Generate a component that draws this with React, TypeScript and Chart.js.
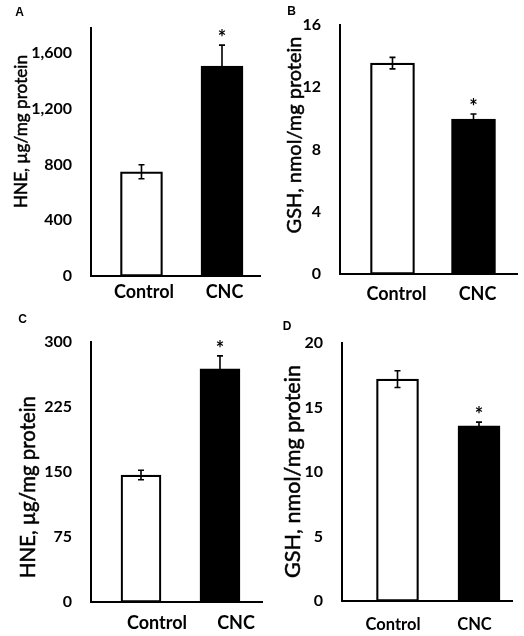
import React, { useEffect, useRef } from 'react';
import { Chart, registerables } from 'chart.js';

Chart.register(...registerables);

// ---- data ----
const categories = ['Control', 'CNC'];
const significant = [false, true];

const hneAValues = [748, 1507];
const hneAErrors = [50, 150];
const hneATicks = [0, 400, 800, 1200, 1600];

const gshBValues = [13.55, 9.96];
const gshBErrors = [0.37, 0.32];
const gshBTicks = [0, 4, 8, 12, 16];

const hneCValues = [146.5, 269];
const hneCErrors = [5.5, 15];
const hneCTicks = [0, 75, 150, 225, 300];

const gshDValues = [17.2, 13.57];
const gshDErrors = [0.65, 0.3];
const gshDTicks = [0, 5, 10, 15, 20];

const hneTitle = 'HNE, µg/mg protein';
const gshTitle = 'GSH, nmol/mg protein';

// ---- layout ----
type Panel = {
  letter: string; letterX: number; letterY: number;
  title: string; titleX: number; titleY: number; titleLen: number;
  values: number[]; errors: number[]; yTicks: number[]; yMax: number;
  area: { left: number; top: number; right: number; bottom: number };
  xMin: number; xMax: number; barW: number;
  labelOffset: number; labelPad: number; catSize: number;
};

const panels: Panel[] = [
  {
    letter: 'A', letterX: 19.5, letterY: 12.5,
    title: hneTitle, titleX: 21, titleY: 131.5, titleLen: 153,
    values: hneAValues, errors: hneAErrors, yTicks: hneATicks, yMax: 1780,
    area: { left: 91, top: 28, right: 260, bottom: 276 },
    xMin: 0.373, xMax: 2.472, barW: 42, labelOffset: 2.5, labelPad: -2.5, catSize: 18,
  },
  {
    letter: 'B', letterX: 291.5, letterY: 12,
    title: gshTitle, titleX: 294.5, titleY: 135, titleLen: 197,
    values: gshBValues, errors: gshBErrors, yTicks: gshBTicks, yMax: 16,
    area: { left: 340, top: 25, right: 517, bottom: 274 },
    xMin: 0.352, xMax: 2.537, barW: 44, labelOffset: 4, labelPad: 1.5, catSize: 18,
  },
  {
    letter: 'C', letterX: 22.5, letterY: 320,
    title: hneTitle, titleX: 28.5, titleY: 487, titleLen: 182,
    values: hneCValues, errors: hneCErrors, yTicks: hneCTicks, yMax: 300,
    area: { left: 91, top: 342, right: 262, bottom: 602 },
    xMin: 0.367, xMax: 2.532, barW: 40, labelOffset: 16, labelPad: 2, catSize: 18,
  },
  {
    letter: 'D', letterX: 287, letterY: 326.5,
    title: gshTitle, titleX: 293, titleY: 471.5, titleLen: 213,
    values: gshDValues, errors: gshDErrors, yTicks: gshDTicks, yMax: 20,
    area: { left: 342, top: 343, right: 512, bottom: 601 },
    xMin: 0.319, xMax: 2.405, barW: 42, labelOffset: -4.5, labelPad: 6, catSize: 16.5,
  },
];

const W = 524;
const H = 636;
const AXIS_W = 60;
const AXIS_H = 40;

function makeChart(canvas: HTMLCanvasElement, p: Panel) {
  const overlay = {
    id: 'overlay' + p.letter,
    afterDatasetsDraw(chart: any) {
      const ctx = chart.ctx;
      const ys = chart.scales.y;
      const meta = chart.getDatasetMeta(0);
      ctx.save();
      ctx.strokeStyle = '#000';
      ctx.lineWidth = 1.6;
      meta.data.forEach((bar: any, i: number) => {
        const x = bar.x;
        const t = ys.getPixelForValue(p.values[i] + p.errors[i]);
        const b = ys.getPixelForValue(p.values[i] - p.errors[i]);
        ctx.beginPath();
        ctx.moveTo(x, t); ctx.lineTo(x, b);
        ctx.moveTo(x - 3, t); ctx.lineTo(x + 3, t);
        ctx.moveTo(x - 3, b); ctx.lineTo(x + 3, b);
        ctx.stroke();
        if (significant[i]) {
          ctx.fillStyle = '#000';
          ctx.font = 'bold 20px Lato';
          ctx.textAlign = 'center';
          ctx.textBaseline = 'alphabetic';
          ctx.fillText('*', x, t);
        }
      });
      ctx.restore();
    },
    afterDraw(chart: any) {
      const ctx = chart.ctx;
      ctx.save();
      ctx.fillStyle = '#000';
      ctx.strokeStyle = '#000';
      ctx.font = 'bold 12px "Liberation Sans"';
      ctx.textAlign = 'center';
      ctx.textBaseline = 'middle';
      ctx.fillText(p.letter, p.letterX, p.letterY);
      ctx.translate(p.titleX, p.titleY);
      ctx.rotate(-Math.PI / 2);
      ctx.font = '20px Lato';
      const w = ctx.measureText(p.title).width;
      const size = (20 * p.titleLen) / w;
      ctx.font = `${size.toFixed(2)}px Lato`;
      ctx.fillText(p.title, 0, 0);
      ctx.lineWidth = 0.5;
      ctx.strokeText(p.title, 0, 0);
      ctx.restore();
    },
  };

  return new Chart(canvas, {
    type: 'bar',
    data: {
      datasets: [
        {
          data: p.values.map((v, i) => ({ x: i + 1, y: v })),
          backgroundColor: ['#ffffff', '#000000'],
          borderColor: '#000000',
          borderWidth: 2.2,
          borderSkipped: false,
          barThickness: p.barW,
        } as any,
      ],
    },
    options: {
      responsive: false,
      animation: false,
      events: [],
      layout: {
        padding: {
          left: p.area.left - AXIS_W,
          top: p.area.top,
          right: W - p.area.right,
          bottom: H - p.area.bottom - AXIS_H,
        },
      },
      plugins: { legend: { display: false }, tooltip: { enabled: false } },
      scales: {
        x: {
          type: 'linear',
          offset: false,
          min: p.xMin,
          max: p.xMax,
          grid: { display: false, offset: false },
          border: { display: true, color: '#000', width: 2 },
          afterBuildTicks: (axis: any) => {
            axis.ticks = categories.map((_, i) => ({ value: i + 1 }));
          },
          afterFit: (axis: any) => { axis.height = AXIS_H; },
          ticks: {
            autoSkip: false,
            maxRotation: 0,
            padding: p.labelPad,
            labelOffset: p.labelOffset,
            color: '#000',
            font: { family: 'Lato', weight: 'bold', size: p.catSize },
            callback: (_v: any, i: number) => categories[i],
          },
        },
        y: {
          type: 'linear',
          min: 0,
          max: p.yMax,
          grid: { display: false },
          border: { display: true, color: '#000', width: 2 },
          afterBuildTicks: (axis: any) => {
            axis.ticks = p.yTicks.map((v) => ({ value: v }));
          },
          afterFit: (axis: any) => { axis.width = AXIS_W; },
          ticks: {
            padding: 11,
            color: '#000',
            font: { family: 'Lato', weight: 'bold', size: 16 },
            callback: (v: any) => Number(v).toLocaleString('en-US'),
          },
        },
      },
    } as any,
    plugins: [overlay],
  });
}

export default function App() {
  const refs = useRef<(HTMLCanvasElement | null)[]>([]);
  useEffect(() => {
    const charts = panels.map((p, i) => makeChart(refs.current[i] as HTMLCanvasElement, p));
    return () => charts.forEach((c) => c.destroy());
  }, []);
  return (
    <div style={{ position: 'absolute', left: 0, top: 0, width: W, height: H, background: '#fff' }}>
      {panels.map((p, i) => (
        <canvas
          key={p.letter}
          ref={(el) => { refs.current[i] = el; }}
          width={W}
          height={H}
          style={{ position: 'absolute', left: 0, top: 0 }}
        />
      ))}
    </div>
  );
}
